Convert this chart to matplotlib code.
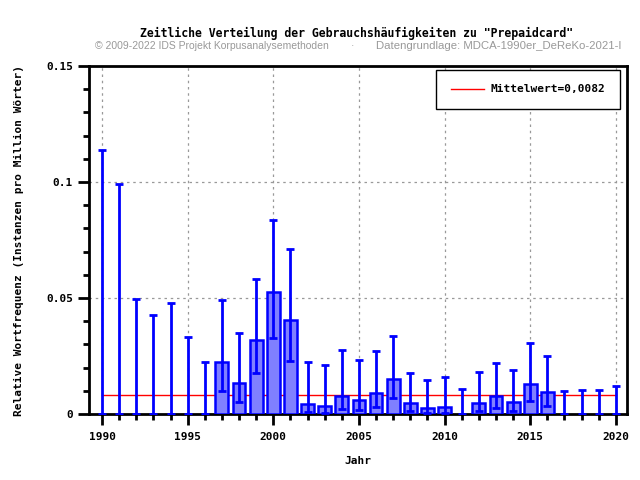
import numpy as np
import matplotlib
matplotlib.use('Agg')
import matplotlib.pyplot as plt
import matplotlib.ticker as ticker

# Daten
jahre = list(range(1990, 2021))
werte = [0, 0, 0, 0, 0, 0, 0,
         0.0226, 0.0135, 0.0319, 0.0527, 0.0405, 0.0041, 0.0036, 0.0076,
         0.0062, 0.0092, 0.0152, 0.0049, 0.0027, 0.0032, 0,
         0.0049, 0.0076, 0.0053, 0.0131, 0.0096, 0, 0, 0, 0]
fehler_oben = [0.1138, 0.0991, 0.0496, 0.0427, 0.0478, 0.0332, 0.0224,
               0.0491, 0.0349, 0.0582, 0.0836, 0.0711, 0.0224, 0.0211, 0.0277,
               0.0234, 0.0272, 0.0336, 0.0178, 0.0147, 0.0160, 0.0108,
               0.0181, 0.0220, 0.0190, 0.0306, 0.0250, 0.0099, 0.0103, 0.0103, 0.0120]
fehler_unten = [0, 0, 0, 0, 0, 0, 0,
                0.0099, 0.0052, 0.0177, 0.0329, 0.0228, 0.0008, 0.0005, 0.0022,
                0.0017, 0.0030, 0.0070, 0.0013, 0.0006, 0.0006, 0,
                0.0013, 0.0027, 0.0014, 0.0056, 0.0036, 0, 0, 0, 0]
mittelwert = 0.0082

mono = 'DejaVu Sans Mono'
fig = plt.figure(figsize=(6.4, 4.8), dpi=100)
ax = fig.add_axes([89/640, 1-414/480, (627-89)/640, (414-66)/480])

x = np.array(jahre)
w = np.array(werte)
hat_balken = w > 0
ax.bar(x[hat_balken], w[hat_balken], width=0.75, color='#8080ff',
       edgecolor='#0000ff', linewidth=1.8, zorder=3)

err = [np.array(werte) - np.array(fehler_unten), np.array(fehler_oben) - np.array(werte)]
ax.errorbar(x, w, yerr=err, fmt='none', ecolor='#0000ff', elinewidth=2,
            capsize=2.8, capthick=2, zorder=4)

ax.plot([1990, 2020], [mittelwert, mittelwert], color='red', linewidth=1,
        label='Mittelwert=0,0082', zorder=2)

ax.set_xlim(1989.24, 2020.65)
ax.set_ylim(0, 0.15)
ax.xaxis.set_major_locator(ticker.MultipleLocator(5))
ax.xaxis.set_minor_locator(ticker.MultipleLocator(1))
ax.yaxis.set_major_locator(ticker.FixedLocator([0, 0.05, 0.1, 0.15]))
ax.yaxis.set_minor_locator(ticker.MultipleLocator(0.01))
ax.yaxis.set_major_formatter(ticker.FixedFormatter(['0', '0.05', '0.1', '0.15']))
ax.tick_params(which='major', direction='out', length=8, width=2)
ax.tick_params(which='minor', direction='out', length=4, width=2)
ax.tick_params(axis='x', pad=5)
for lab in ax.get_xticklabels() + ax.get_yticklabels():
    lab.set_fontfamily(mono)
    lab.set_fontweight('bold')
    lab.set_fontsize(8)
for s in ax.spines.values():
    s.set_linewidth(2)
ax.grid(True, which='major', linestyle=(0, (2, 3)), color='#999999', linewidth=0.9, zorder=0)
ax.set_axisbelow(True)

ax.set_xlabel('Jahr', fontfamily=mono, fontweight='bold', fontsize=8, labelpad=10)
ax.set_ylabel('Relative Wortfrequenz (Instanzen pro Million Wörter)', fontfamily=mono,
              fontweight='bold', fontsize=8, labelpad=16)

leg = ax.legend(loc='upper right', bbox_to_anchor=((620-89)/538, (414-70)/348),
                borderaxespad=0, fancybox=False,
                edgecolor='black', framealpha=1,
                prop={'family': mono, 'weight': 'bold', 'size': 8},
                handlelength=3, borderpad=1.3, handletextpad=0.6)
leg.get_frame().set_linewidth(1)

fig.text(357/640, 1-33/480, 'Zeitliche Verteilung der Gebrauchshäufigkeiten zu "Prepaidcard"',
         ha='center', va='center', fontfamily=mono, fontweight='bold', fontsize=8.3)
sub_font = ['Liberation Sans', 'DejaVu Sans']
fig.text(95/640, 1-46/480, '© 2009-2022 IDS Projekt Korpusanalysemethoden', ha='left', va='center',
         color='#999999', fontfamily=sub_font, fontsize=7.5)
fig.text(353/640, 1-46/480, '·', ha='center', va='center', color='#999999',
         fontfamily=sub_font, fontsize=7.5)
fig.text(376/640, 1-46/480, 'Datengrundlage: MDCA-1990er_DeReKo-2021-I', ha='left', va='center',
         color='#999999', fontfamily=sub_font, fontsize=8.2)

fig.savefig('out.png', dpi=100)
